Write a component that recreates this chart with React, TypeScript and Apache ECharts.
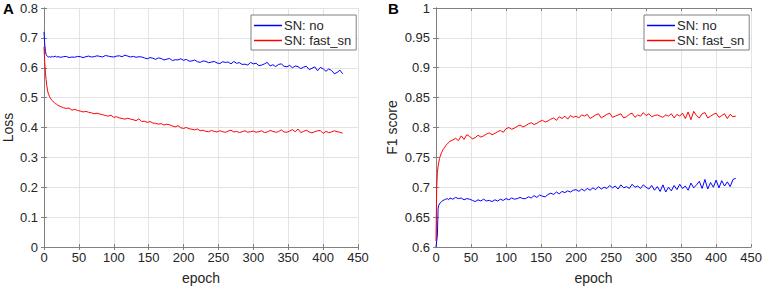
import React, { useEffect, useRef } from "react";
import * as echarts from "echarts";

const epochs = [0, 1, 2, 3, 4, 5, 6, 8, 10, 12, 14, 16, 18, 20,
  24, 28, 32, 36, 40, 44, 48, 52, 56, 60, 64, 68, 72, 76, 80, 84, 88, 92, 96, 100,
  104, 108, 112, 116, 120, 124, 128, 132, 136, 140, 144, 148, 152, 156, 160, 164, 168, 172, 176, 180, 184, 188, 192, 196, 200,
  204, 208, 212, 216, 220, 224, 228, 232, 236, 240, 244, 248, 252, 256, 260, 264, 268, 272, 276, 280, 284, 288, 292, 296, 300,
  304, 308, 312, 316, 320, 324, 328, 332, 336, 340, 344, 348, 352, 356, 360, 364, 368, 372, 376, 380, 384, 388, 392, 396, 400,
  404, 408, 412, 416, 420, 424, 428];

const lossNo = [0.72, 0.68, 0.655, 0.645, 0.64, 0.638, 0.636, 0.637, 0.635, 0.638, 0.636, 0.639, 0.636, 0.637,
  0.635, 0.637, 0.638, 0.634, 0.636, 0.635, 0.638, 0.637, 0.634, 0.637, 0.639, 0.636, 0.637, 0.640, 0.638, 0.636, 0.641, 0.639, 0.637, 0.636,
  0.639, 0.640, 0.637, 0.642, 0.639, 0.636, 0.638, 0.635, 0.637, 0.636, 0.633, 0.630, 0.634, 0.632, 0.628, 0.633, 0.631, 0.626, 0.629, 0.631, 0.624, 0.627, 0.626, 0.630, 0.625,
  0.628, 0.622, 0.623, 0.626, 0.620, 0.618, 0.623, 0.621, 0.617, 0.619, 0.621, 0.616, 0.614, 0.620, 0.618, 0.619, 0.613, 0.621, 0.615, 0.617, 0.611, 0.612, 0.609, 0.618, 0.613,
  0.615, 0.607, 0.609, 0.613, 0.618, 0.606, 0.610, 0.604, 0.611, 0.613, 0.605, 0.603, 0.608, 0.600, 0.606, 0.604, 0.597, 0.602, 0.605, 0.594, 0.598, 0.603, 0.590, 0.601, 0.597,
  0.588, 0.596, 0.591, 0.580, 0.584, 0.592, 0.580];

const lossFast = [0.67, 0.62, 0.585, 0.56, 0.54, 0.525, 0.515, 0.503, 0.495, 0.49, 0.485, 0.48, 0.478, 0.474,
  0.470, 0.466, 0.464, 0.465, 0.458, 0.461, 0.457, 0.455, 0.452, 0.454, 0.451, 0.449, 0.446, 0.448, 0.445, 0.443, 0.440, 0.438, 0.441, 0.434,
  0.436, 0.432, 0.430, 0.428, 0.431, 0.428, 0.426, 0.423, 0.429, 0.420, 0.421, 0.417, 0.420, 0.415, 0.414, 0.411, 0.413, 0.408, 0.411, 0.409, 0.405, 0.402, 0.406, 0.399, 0.397,
  0.400, 0.396, 0.394, 0.392, 0.395, 0.389, 0.391, 0.387, 0.386, 0.390, 0.387, 0.385, 0.389, 0.386, 0.384, 0.388, 0.391, 0.385, 0.387, 0.383, 0.386, 0.389, 0.384, 0.386, 0.388,
  0.384, 0.386, 0.389, 0.383, 0.385, 0.390, 0.387, 0.384, 0.386, 0.392, 0.385, 0.384, 0.388, 0.393, 0.386, 0.395, 0.383, 0.387, 0.391, 0.385, 0.382, 0.386, 0.389, 0.390, 0.380,
  0.387, 0.383, 0.385, 0.389, 0.386, 0.384, 0.381];

const f1Fast = [0.61, 0.70, 0.725, 0.735, 0.742, 0.748, 0.752, 0.758, 0.763, 0.766, 0.770, 0.772, 0.775, 0.777,
  0.779, 0.782, 0.778, 0.786, 0.780, 0.788, 0.785, 0.781, 0.783, 0.787, 0.784, 0.786, 0.789, 0.791, 0.788, 0.790, 0.793, 0.795, 0.792, 0.798,
  0.800, 0.797, 0.799, 0.802, 0.804, 0.801, 0.803, 0.806, 0.808, 0.805, 0.807, 0.810, 0.812, 0.809, 0.811, 0.814, 0.816, 0.812, 0.818, 0.815, 0.819, 0.814, 0.820, 0.817, 0.819,
  0.816, 0.821, 0.819, 0.822, 0.815, 0.818, 0.821, 0.823, 0.816, 0.819, 0.822, 0.824, 0.817, 0.819, 0.821, 0.823, 0.816, 0.818, 0.822, 0.824, 0.817, 0.821, 0.819, 0.825, 0.820,
  0.823, 0.818, 0.820, 0.821, 0.819, 0.817, 0.821, 0.819, 0.823, 0.816, 0.822, 0.819, 0.824, 0.815, 0.826, 0.813, 0.827, 0.820, 0.816, 0.823, 0.825, 0.816, 0.819, 0.822, 0.824,
  0.817, 0.820, 0.823, 0.815, 0.822, 0.818, 0.819];

const f1No = [0.60, 0.60, 0.62, 0.665, 0.670, 0.672, 0.674, 0.676, 0.678, 0.679, 0.680, 0.681, 0.679, 0.682,
  0.680, 0.683, 0.681, 0.682, 0.679, 0.681, 0.680, 0.678, 0.676, 0.679, 0.677, 0.680, 0.677, 0.678, 0.676, 0.679, 0.677, 0.680, 0.678, 0.681,
  0.679, 0.682, 0.680, 0.681, 0.683, 0.681, 0.681, 0.684, 0.682, 0.686, 0.683, 0.687, 0.685, 0.684, 0.688, 0.690, 0.688, 0.692, 0.689, 0.693, 0.691, 0.694, 0.692, 0.695, 0.696,
  0.693, 0.697, 0.694, 0.698, 0.695, 0.699, 0.696, 0.701, 0.697, 0.700, 0.698, 0.703, 0.699, 0.702, 0.697, 0.704, 0.699, 0.701, 0.698, 0.705, 0.700, 0.702, 0.698, 0.704, 0.700,
  0.697, 0.703, 0.695, 0.701, 0.693, 0.704, 0.692, 0.700, 0.694, 0.703, 0.696, 0.705, 0.698, 0.702, 0.695, 0.707, 0.699, 0.704, 0.710, 0.698, 0.713, 0.697, 0.708, 0.700, 0.712,
  0.699, 0.711, 0.702, 0.709, 0.701, 0.713, 0.715];

const seriesNames = ["SN: no", "SN: fast_sn"];
const panelLabels = ["A", "B"];
const yTitles = ["Loss", "F1 score"];
const xTitle = "epoch";

const FONT = "'Liberation Sans', Arial, sans-serif";
const TXT = "#262626";
const AX = "#808080";
const GRIDC = "#e3e3e3";

function pairs(ys: number[]) {
  return epochs.map((e, i) => [e, ys[i]]);
}

export default function App() {
  const ref = useRef<HTMLDivElement>(null);
  useEffect(() => {
    if (!ref.current) return;
    const chart = echarts.init(ref.current, null, { renderer: "svg" });
    const grids = [
      { left: 44, top: 8, width: 314, height: 239 },
      { left: 436, top: 8, width: 320, height: 239 },
    ];
    const yRanges = [
      { min: 0, max: 0.8, interval: 0.1 },
      { min: 0.6, max: 1, interval: 0.05 },
    ];
    const xAxes: any[] = [];
    const yAxes: any[] = [];
    [0, 1].forEach((g) => {
      xAxes.push({
        type: "value", gridIndex: g, min: 0, max: 450, interval: 50, position: "bottom",
        name: xTitle, nameLocation: "middle", nameGap: 24,
        nameTextStyle: { fontFamily: FONT, fontSize: 14, color: TXT },
        axisLine: { show: true, lineStyle: { color: AX, width: 1 } },
        axisTick: { show: true, inside: true, length: 3, lineStyle: { color: AX } },
        axisLabel: { fontFamily: FONT, fontSize: 13, color: TXT, margin: 4 },
        splitLine: { show: true, lineStyle: { color: GRIDC, width: 1 } },
      });
      xAxes.push({
        type: "value", gridIndex: g, min: 0, max: 450, interval: 50, position: "top",
        axisLine: { show: true, lineStyle: { color: AX, width: 1 } },
        axisTick: { show: true, inside: true, length: 3, lineStyle: { color: AX } },
        axisLabel: { show: false }, splitLine: { show: false },
      });
      yAxes.push({
        type: "value", gridIndex: g, ...yRanges[g], position: "left",
        name: yTitles[g], nameLocation: "middle", nameGap: g === 0 ? 29 : 37,
        nameTextStyle: { fontFamily: FONT, fontSize: 14, color: TXT },
        axisLine: { show: true, lineStyle: { color: AX, width: 1 } },
        axisTick: { show: true, inside: true, length: 3, lineStyle: { color: AX } },
        axisLabel: { fontFamily: FONT, fontSize: 13, color: TXT, margin: 6 },
        splitLine: { show: true, lineStyle: { color: GRIDC, width: 1 } },
      });
      yAxes.push({
        type: "value", gridIndex: g, ...yRanges[g], position: "right",
        axisLine: { show: true, lineStyle: { color: AX, width: 1 } },
        axisTick: { show: true, inside: true, length: 3, lineStyle: { color: AX } },
        axisLabel: { show: false }, splitLine: { show: false },
      });
    });
    const mk = (name: string, color: string, g: number, ys: number[]) => ({
      type: "line", name, xAxisIndex: g * 2, yAxisIndex: g * 2,
      data: pairs(ys), showSymbol: false, symbol: "none",
      lineStyle: { color, width: 1 }, itemStyle: { color }, z: 3,
    });
    const legendBase = {
      orient: "vertical", data: seriesNames, icon: "rect", itemWidth: 28, itemHeight: 1.5,
      itemGap: 2, padding: [4, 5, 3, 3], backgroundColor: "#fff", borderColor: AX, borderWidth: 1,
      textStyle: { fontFamily: FONT, fontSize: 13, color: TXT, lineHeight: 13, padding: [0, 0, 0, -3] },
      selectedMode: false,
    };
    chart.setOption({
      animation: false,
      grid: grids,
      xAxis: xAxes,
      yAxis: yAxes,
      legend: [
        { ...legendBase, left: 251, top: 15 },
        { ...legendBase, left: 644, top: 15 },
      ],
      series: [
        mk(seriesNames[0], "#0000ff", 0, lossNo),
        mk(seriesNames[1], "#ff0000", 0, lossFast),
        mk(seriesNames[0], "#0000ff", 1, f1No),
        mk(seriesNames[1], "#ff0000", 1, f1Fast),
      ],
      graphic: [
        { type: "text", left: 3, top: 1, style: { text: panelLabels[0], font: `bold 15px ${FONT}`, fill: "#000" } },
        { type: "text", left: 388, top: 1, style: { text: panelLabels[1], font: `bold 15px ${FONT}`, fill: "#000" } },
      ],
    });
    return () => chart.dispose();
  }, []);
  return <div ref={ref} style={{ position: "absolute", left: 0, top: 0, width: 765, height: 292, background: "#fff" }} />;
}
